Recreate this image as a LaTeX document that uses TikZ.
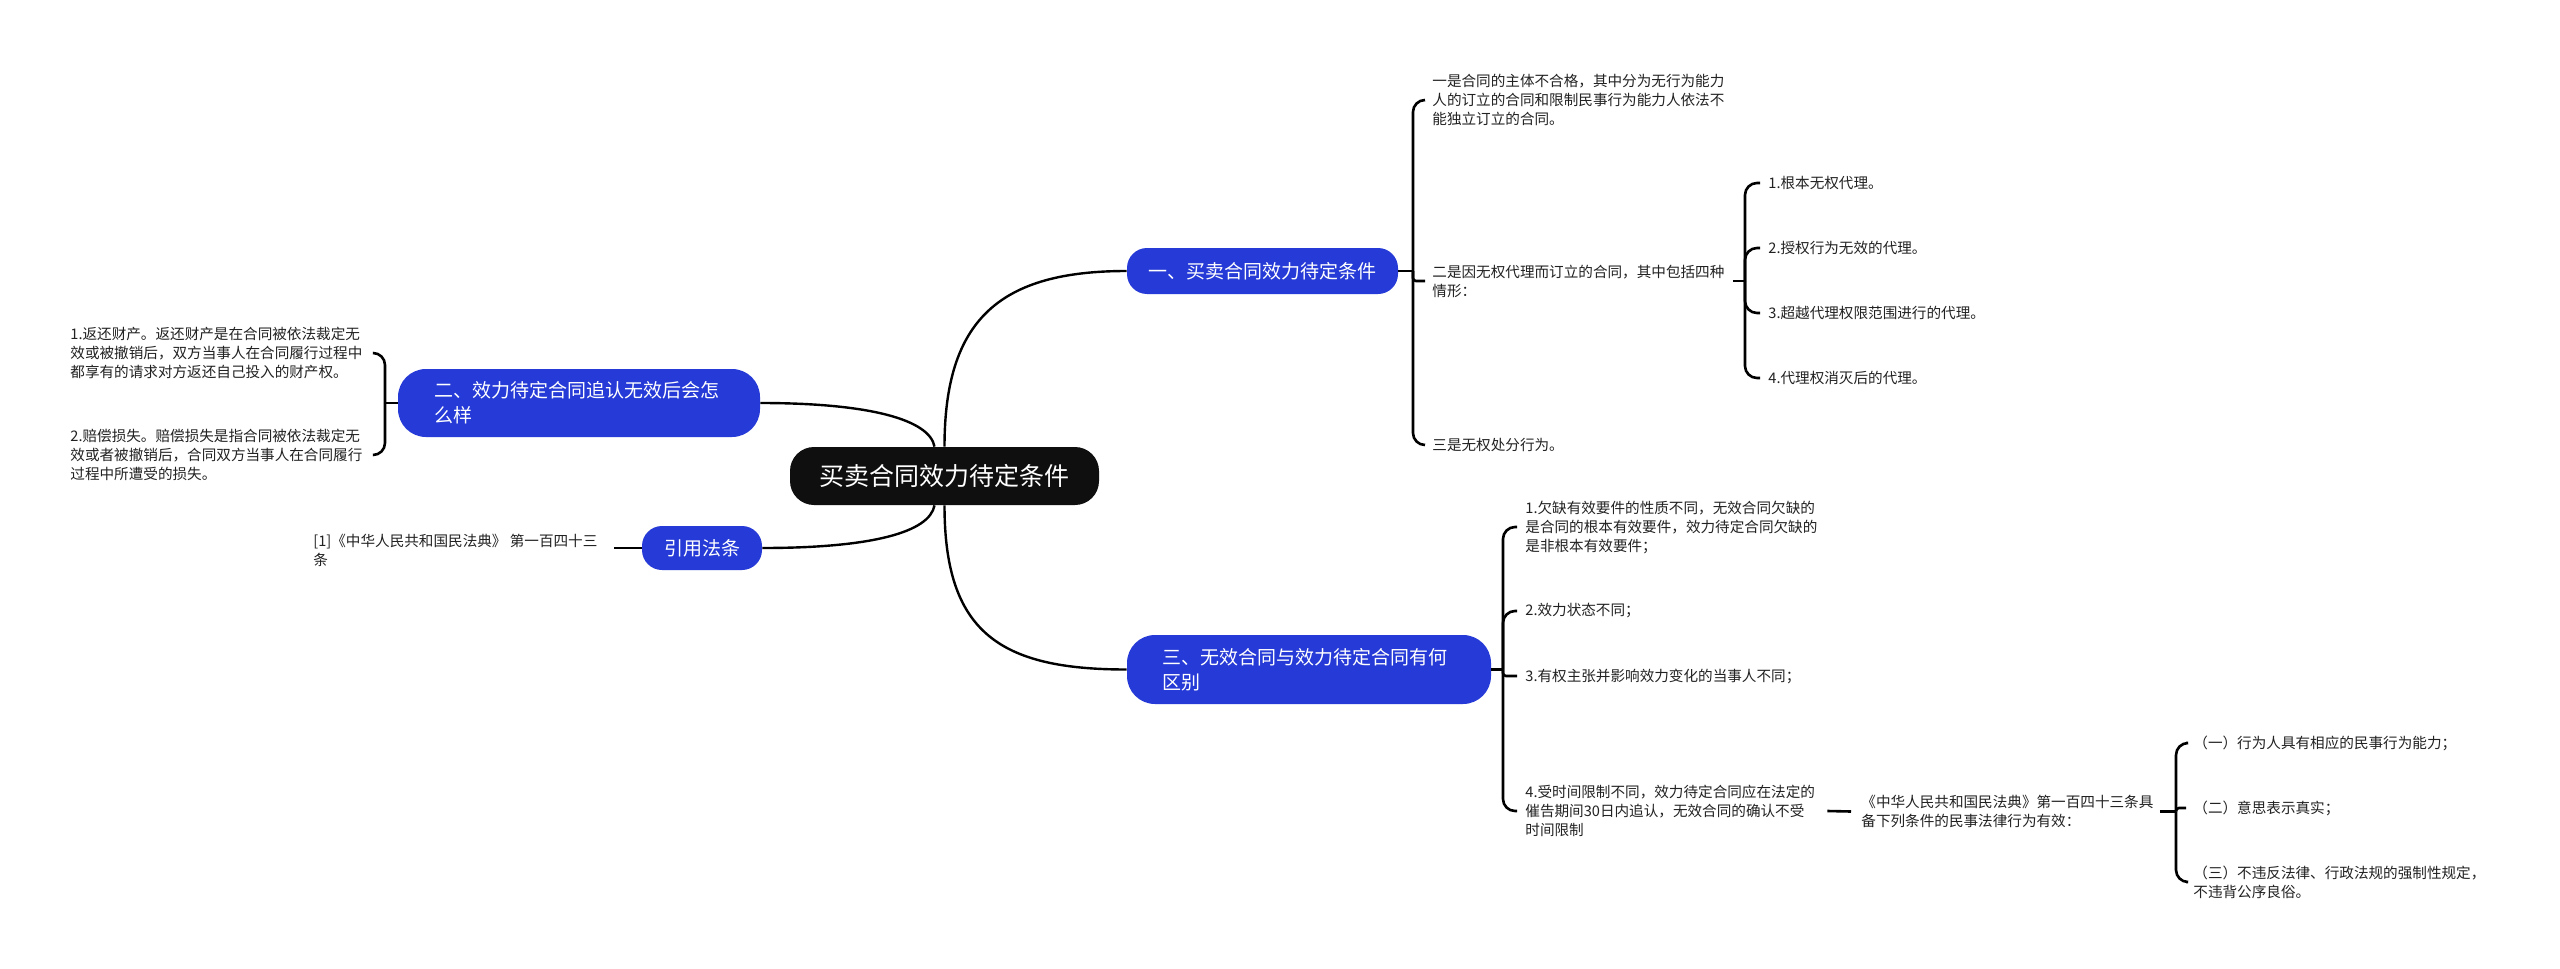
\documentclass[tikz,border=0pt]{standalone}
\usepackage{fontspec}
\newfontfamily\cjk{Noto Sans CJK SC}
\definecolor{bluen}{RGB}{37,58,214}
\definecolor{leafc}{RGB}{34,34,34}
\definecolor{rootc}{RGB}{15,15,15}
\tikzset{
  rootn/.style={fill=rootc, text=white, inner sep=0pt, rounded corners=12pt,
    minimum width=154.5pt, minimum height=29pt, font=\cjk\fontsize{12.5}{15}\selectfont},
  br/.style={fill=bluen, text=white, inner sep=0pt, align=left, rounded corners=10pt,
    font=\cjk\fontsize{9.5}{12.5}\selectfont},
  leaf/.style={anchor=west, inner sep=0pt, align=left, text=leafc,
    font=\cjk\fontsize{7.3}{9.5}\selectfont},
  conn/.style={draw=black, line width=1.2pt},
  stem/.style={draw=black, line width=1.3pt, rounded corners=6pt},
  stems/.style={draw=black, line width=1.3pt, rounded corners=1.5pt}
}
\begin{document}
\begin{tikzpicture}[x=0.5pt,y=-0.5pt]
\useasboundingbox (0,0) rectangle (2560,969);
\fill[white] (0,0) rectangle (2560,969);

% main nodes
\node[rootn] (root) at (944.5,476) {买卖合同效力待定条件};
\node[br, minimum width=135.5pt, minimum height=23pt, align=center] (b1) at (1262.5,271) {一、买卖合同效力待定条件};
\node[br, text width=147pt, inner xsep=17.5pt, minimum height=34.5pt, rounded corners=14pt] (b3) at (1309,669.5) {三、无效合同与效力待定合同有何\\区别};
\node[br, text width=145pt, inner xsep=18pt, minimum height=34pt, rounded corners=14pt] (b2) at (579,403) {二、效力待定合同追认无效后会怎\\么样};
\node[br, minimum width=60pt, minimum height=22pt, align=center] (cite) at (702,548) {引用法条};

% root connectors
\draw[conn] (root.north) .. controls +(0,-127) and +(-127,0) .. (b1.west);
\draw[conn] (root.south) .. controls +(0,127) and +(-127,0) .. (b3.west);
\draw[conn] ([xshift=-5pt]root.north) .. controls +(-5,-27) and +(109,0) .. (b2.east);
\draw[conn] ([xshift=-5pt]root.south) .. controls +(-5,27) and +(109,0) .. (cite.east);

% branch 1
\coordinate (h1) at (1413,271);
\draw[stem] (b1.east) -- (h1);
\node[leaf] (l1a) at (1432,100) {一是合同的主体不合格，其中分为无行为能力\\人的订立的合同和限制民事行为能力人依法不\\能独立订立的合同。};
\node[leaf] (l1b) at (1432,281) {二是因无权代理而订立的合同，其中包括四种\\情形：};
\node[leaf] (l1c) at (1432,445) {三是无权处分行为。};
\draw[stem] (h1) |- ([xshift=-3.5pt]l1a.west);
\draw[stems] (h1) |- ([xshift=-3.5pt]l1b.west);
\draw[stem] (h1) |- ([xshift=-3.5pt]l1c.west);

\coordinate (h1b) at (1745,281);
\draw[stem] ([xshift=4pt]l1b.east) -- (h1b);
\node[leaf] (p1) at (1768,183) {1.根本无权代理。};
\node[leaf] (p2) at (1768,248) {2.授权行为无效的代理。};
\node[leaf] (p3) at (1768,313) {3.超越代理权限范围进行的代理。};
\node[leaf] (p4) at (1768,378) {4.代理权消灭后的代理。};
\draw[stem] (h1b) |- ([xshift=-4pt]p1.west);
\draw[stem] (h1b) |- ([xshift=-4pt]p2.west);
\draw[stem] (h1b) |- ([xshift=-4pt]p3.west);
\draw[stem] (h1b) |- ([xshift=-4pt]p4.west);

% branch 3
\coordinate (h3) at (1503,669.5);
\draw[stem] (b3.east) -- (h3);
\node[leaf] (l3a) at (1525,527) {1.欠缺有效要件的性质不同，无效合同欠缺的\\是合同的根本有效要件，效力待定合同欠缺的\\是非根本有效要件；};
\node[leaf] (l3b) at (1525,611) {2.效力状态不同；};
\node[leaf] (l3c) at (1525,676) {3.有权主张并影响效力变化的当事人不同；};
\node[leaf] (l3d) at (1525,811) {4.受时间限制不同，效力待定合同应在法定的\\催告期间30日内追认，无效合同的确认不受\\时间限制};
\draw[stem] (h3) |- ([xshift=-4pt]l3a.west);
\draw[stem] (h3) |- ([xshift=-4pt]l3b.west);
\draw[stems] (h3) |- ([xshift=-4pt]l3c.west);
\draw[stem] (h3) |- ([xshift=-4pt]l3d.west);

\node[leaf] (law) at (1861,811.5) {《中华人民共和国民法典》第一百四十三条具\\备下列条件的民事法律行为有效：};
\draw[stem] ([xshift=6pt]l3d.east) -- ([xshift=-5pt]law.west);

\coordinate (hl) at (2176,811.5);
\draw[stem] ([xshift=3pt]law.east) -- (hl);
\node[leaf] (q1) at (2193,743) {（一）行为人具有相应的民事行为能力；};
\node[leaf] (q2) at (2193,808) {（二）意思表示真实；};
\node[leaf] (q3) at (2193,882) {（三）不违反法律、行政法规的强制性规定，\\不违背公序良俗。};
\draw[stem] (hl) |- ([xshift=-3.5pt]q1.west);
\draw[stems] (hl) |- ([xshift=-3.5pt]q2.west);
\draw[stem] (hl) |- ([xshift=-3.5pt]q3.west);

% branch 2
\coordinate (h2) at (385,403);
\draw[stem] (b2.west) -- (h2);
\node[leaf] (m1) at (70,353) {1.返还财产。返还财产是在合同被依法裁定无\\效或被撤销后，双方当事人在合同履行过程中\\都享有的请求对方返还自己投入的财产权。};
\node[leaf] (m2) at (70,455) {2.赔偿损失。赔偿损失是指合同被依法裁定无\\效或者被撤销后，合同双方当事人在合同履行\\过程中所遭受的损失。};
\draw[stem] (h2) |- ([xshift=5pt]m1.east);
\draw[stem] (h2) |- ([xshift=5pt]m2.east);

% citation
\node[leaf] (c1) at (313,550) {[1]《中华人民共和国民法典》 第一百四十三\\条};
\draw[stem] (cite.west) -- ([xshift=8pt]cite.west -| c1.east);
\end{tikzpicture}
\end{document}
